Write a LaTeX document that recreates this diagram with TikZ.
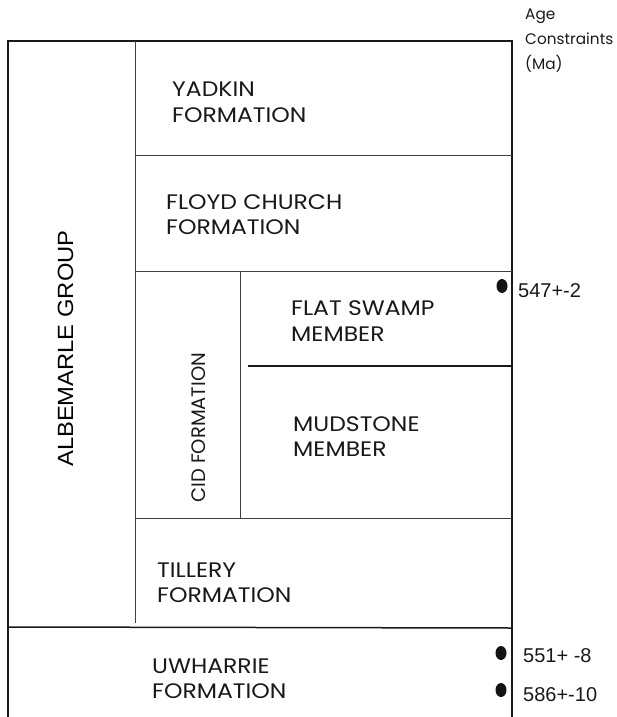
\documentclass[tikz,border=0pt]{standalone}
\usepackage{fontspec}
\setmainfont{Poppins}[FakeStretch=1.12]
\newfontfamily\plainf{Poppins}
\newfontfamily\arialf{Liberation Sans}
\newfontfamily\albf{Liberation Sans}[FakeStretch=1.08]
\begin{document}
\begin{tikzpicture}[x=1pt,y=-1pt,
  lbl/.style={anchor=base west, inner sep=0pt, text=black!90, font=\fontsize{21}{21}\selectfont},
  age/.style={anchor=base west, inner sep=0pt, text=black!90, font=\plainf\fontsize{15.3}{15.3}\selectfont},
  num/.style={anchor=base west, inner sep=0pt, text=black!90, font=\arialf\fontsize{20}{20}\selectfont},
  framel/.style={line width=1.8pt, black!90},
  thinl/.style={line width=1pt, black!75},
  midl/.style={line width=1.5pt, black!90},
  dot/.style={fill=black!92}]
\useasboundingbox (0,0) rectangle (616,717);

% frame
\coordinate (TL) at (8,41);
\coordinate (TR) at (512,41);
\coordinate (BL) at (8,717);
\coordinate (BR) at (512,717);
\draw[framel] (BL) -- (TL) -- (TR) -- (BR);

% inner lines
\coordinate (v1t) at (135,41);
\coordinate (v1b) at (135,623);
\draw[thinl] (v1t) -- (v1b);
\coordinate (h1a) at (135,155);
\coordinate (h1b) at (512,155);
\draw[thinl] (h1a) -- (h1b);
\coordinate (h2a) at (135,271);
\coordinate (h2b) at (512,271);
\draw[thinl] (h2a) -- (h2b);
\coordinate (v2t) at (240,271);
\coordinate (v2b) at (240,518);
\draw[thinl] (v2t) -- (v2b);
\coordinate (h3a) at (248,366);
\coordinate (h3b) at (512,366);
\draw[midl] (h3a) -- (h3b);
\coordinate (h4a) at (135,518);
\coordinate (h4b) at (512,518);
\draw[thinl] (h4a) -- (h4b);
\coordinate (h5a) at (8,627);
\coordinate (h5b) at (512,628);
\draw[midl] (h5a) -- (h5b);

% labels
\node[age] (age1) at (525,20) {Age};
\node[age] (age2) at (525,45) {Constraints};
\node[age] (age3) at (525,70) {(Ma)};

\node[lbl] (yad1) at (172,96) {YADKIN};
\node[lbl] (yad2) at (172,122) {FORMATION};
\node[lbl] (flo1) at (166,209) {FLOYD CHURCH};
\node[lbl] (flo2) at (166,234) {FORMATION};
\node[lbl] (fs1) at (291,315) {FLAT SWAMP};
\node[lbl] (fs2) at (291,341) {MEMBER};
\node[lbl] (mud1) at (293,431) {MUDSTONE};
\node[lbl] (mud2) at (293,456) {MEMBER};
\node[lbl] (til1) at (157,577) {TILLERY};
\node[lbl] (til2) at (157,602) {FORMATION};
\node[lbl] (uwh1) at (152,673) {UWHARRIE};
\node[lbl] (uwh2) at (152,698) {FORMATION};

\node[anchor=base west, inner sep=0pt, rotate=90, text=black!90, font=\plainf\fontsize{19.5}{19.5}\selectfont] (cid) at (205,503) {CID FORMATION};
\node[anchor=base west, inner sep=0pt, rotate=90, text=black, font=\albf\fontsize{22}{22}\selectfont] (alb) at (73,467) {ALBEMARLE GROUP};

% age constraint dots
\fill[dot] (502,286) ellipse (5.5 and 7);
\fill[dot] (501,653) ellipse (5.5 and 7);
\fill[dot] (501,690) ellipse (5.5 and 7);
\node[num] (a547) at (518,297) {547+-2};
\node[num] (a551) at (523,662) {551+ -8};
\node[num] (a586) at (523,701) {586+-10};
\end{tikzpicture}
\end{document}
